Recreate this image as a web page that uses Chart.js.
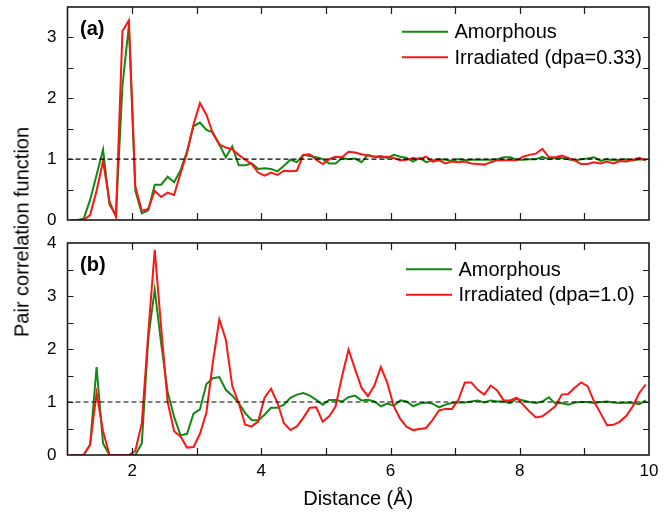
<!DOCTYPE html>
<html>
<head>
<meta charset="utf-8">
<script src="https://cdn.jsdelivr.net/npm/chart.js@4.4.1/dist/chart.umd.min.js"></script>
<style>
  html, body { margin: 0; padding: 0; background: #fff; }
  #wrap { position: relative; width: 670px; height: 512px; font-family: "Liberation Sans", Arial, sans-serif; }
  #panelA { position: absolute; left: 0; top: 0; }
  #panelB { position: absolute; left: 0; top: 233px; }
  #ytitle { position: absolute; left: 22px; top: 232px; transform: translate(-50%, -50%) rotate(-90deg);
            font-size: 20px; white-space: nowrap; color: #000; }
</style>
</head>
<body>
<div id="wrap">
  <canvas id="panelA" width="670" height="233"></canvas>
  <canvas id="panelB" width="670" height="279"></canvas>
  <div id="ytitle">Pair correlation function</div>
</div>
<script>
// distance bins (Å)
const distance = [
  1.05, 1.15, 1.25, 1.35, 1.45, 1.55, 1.65, 1.75, 1.85, 1.95,
  2.05, 2.15, 2.25, 2.35, 2.45, 2.55, 2.65, 2.75, 2.85, 2.95,
  3.05, 3.15, 3.25, 3.35, 3.45, 3.55, 3.65, 3.75, 3.85, 3.95,
  4.05, 4.15, 4.25, 4.35, 4.45, 4.55, 4.65, 4.75, 4.85, 4.95,
  5.05, 5.15, 5.25, 5.35, 5.45, 5.55, 5.65, 5.75, 5.85, 5.95,
  6.05, 6.15, 6.25, 6.35, 6.45, 6.55, 6.65, 6.75, 6.85, 6.95,
  7.05, 7.15, 7.25, 7.35, 7.45, 7.55, 7.65, 7.75, 7.85, 7.95,
  8.05, 8.15, 8.25, 8.35, 8.45, 8.55, 8.65, 8.75, 8.85, 8.95,
  9.05, 9.15, 9.25, 9.35, 9.45, 9.55, 9.65, 9.75, 9.85, 9.95
];

// panel (a)
const amorphousA = [
  0, 0, 0.02, 0.33, 0.74, 1.16, 0.25, 0.08, 2.2, 3.2,
  0.48, 0.11, 0.16, 0.58, 0.58, 0.71, 0.62, 0.82, 1.13, 1.54,
  1.6, 1.48, 1.44, 1.24, 1.03, 1.21, 0.9, 0.9, 0.93, 0.84,
  0.85, 0.84, 0.8, 0.89, 0.99, 0.95, 1.07, 1.05, 1.03, 1.0,
  0.93, 0.93, 1.02, 1.0, 1.01, 0.95, 1.07, 1.04, 1.05, 1.02,
  1.07, 1.04, 1.02, 0.96, 1.02, 0.95, 0.98, 1.0, 0.99, 0.97,
  1.0, 0.98, 0.99, 0.99, 0.99, 0.99, 1.0, 1.03, 1.03, 0.99,
  0.99, 1.0, 1.0, 1.04, 1.0, 1.02, 1.02, 1.0, 0.98, 1.0,
  1.01, 1.03, 0.97, 1.0, 0.98, 0.99, 1.0, 0.98, 1.0, 0.99
];
const irradiatedA = [
  0, 0, 0, 0.08, 0.48, 0.97, 0.3, 0.05, 3.1, 3.28,
  0.55, 0.15, 0.18, 0.48, 0.38, 0.45, 0.41, 0.77, 1.1, 1.57,
  1.92, 1.73, 1.42, 1.24, 1.19, 1.16, 1.07, 0.99, 0.92, 0.78,
  0.73, 0.78, 0.74, 0.81, 0.8, 0.81, 1.07, 1.08, 0.99, 0.92,
  1.0, 1.04, 1.03, 1.12, 1.11, 1.08, 1.06, 1.04, 1.03, 1.04,
  1.02, 0.98, 0.99, 1.02, 1.0, 1.04, 0.96, 0.98, 0.93, 0.96,
  0.95, 0.96, 0.93, 0.92, 0.91, 0.95, 0.98, 0.98, 0.98, 0.98,
  1.04, 1.07, 1.09, 1.17, 1.03, 1.03, 1.06, 1.02, 0.98, 0.92,
  0.92, 0.95, 0.93, 0.96, 0.93, 0.97, 0.96, 0.99, 1.02, 0.98
];

// panel (b)
const amorphousB = [
  0, 0, 0, 0.19, 1.66, 0.22, 0, 0, 0, 0,
  0, 0.22, 2.2, 3.12, 2.1, 1.19, 0.72, 0.37, 0.4, 0.78,
  0.86, 1.34, 1.45, 1.47, 1.23, 1.12, 0.98, 0.79, 0.66, 0.65,
  0.76, 0.89, 0.89, 0.95, 1.08, 1.14, 1.17, 1.12, 1.04, 0.95,
  1.04, 1.04, 1.01, 1.09, 1.12, 1.03, 1.04, 1.01, 0.92, 0.97,
  0.93, 1.03, 1.01, 0.92, 0.97, 0.99, 0.97, 0.9, 0.95, 0.98,
  0.99, 0.99, 1.01, 1.03, 0.99, 1.03, 1.01, 1.01, 0.98, 1.06,
  1.03, 1.0, 0.98, 1.01, 1.09, 0.97, 0.98, 0.95, 0.99, 1.0,
  1.0, 0.98, 1.0, 1.01, 0.99, 0.98, 0.99, 0.98, 0.96, 1.03
];
const irradiatedB = [
  0, 0, 0, 0.2, 1.17, 0.45, 0, 0, 0, 0,
  0.08, 0.6, 2.3, 3.87, 2.4, 1.0, 0.45, 0.35, 0.14, 0.15,
  0.4, 0.8, 1.75, 2.56, 2.18, 1.3, 0.98, 0.57, 0.54, 0.63,
  1.08, 1.25, 0.98, 0.6, 0.47, 0.54, 0.7, 0.89, 0.9, 0.63,
  0.73, 0.92, 1.49, 1.99, 1.62, 1.27, 1.11, 1.31, 1.66, 1.36,
  0.92, 0.68, 0.53, 0.47, 0.49, 0.51, 0.66, 0.84, 0.87, 0.87,
  1.04, 1.37, 1.37, 1.23, 1.14, 1.31, 1.22, 1.03, 1.03, 1.08,
  0.95, 0.82, 0.71, 0.73, 0.82, 0.92, 1.14, 1.15, 1.27, 1.37,
  1.3, 1.01, 0.79, 0.56, 0.57, 0.63, 0.74, 0.92, 1.17, 1.33
];

// dashed reference g(r) = 1
const refRange = [1, 10];
const refLevel = [1, 1];

// tick marks
const xMarks = [2, 3, 4, 5, 6, 7, 8, 9];
const yMarksA = [0.5, 1, 1.5, 2, 2.5, 3];
const yMarksB = [0.5, 1, 1.5, 2, 2.5, 3, 3.5];

const GREEN = '#128a12';
const RED = '#ff1414';
const FONT = '"Liberation Sans", Arial, sans-serif';

Chart.defaults.font.family = FONT;
Chart.defaults.color = '#000';

function toPoints(xs, ys) {
  return xs.map((x, i) => ({ x: x, y: ys[i] }));
}

// frame, inward ticks, panel tag and legend
const panelDecor = {
  id: 'panelDecor',
  afterDraw(chart, args, o) {
    const ctx = chart.ctx;
    const a = chart.chartArea;
    const x = chart.scales.x, y = chart.scales.y;
    ctx.save();
    ctx.strokeStyle = '#1a1a1a';
    ctx.lineWidth = 1.2;
    xMarks.forEach(v => {
      const px = Math.round(x.getPixelForValue(v)) + 0.5;
      ctx.beginPath();
      ctx.moveTo(px, a.bottom); ctx.lineTo(px, a.bottom - 7);
      ctx.moveTo(px, a.top); ctx.lineTo(px, a.top + 7);
      ctx.stroke();
    });
    o.yMarks.forEach(v => {
      const py = Math.round(y.getPixelForValue(v)) + 0.5;
      ctx.beginPath();
      ctx.moveTo(a.left, py); ctx.lineTo(a.left + 6, py);
      ctx.moveTo(a.right, py); ctx.lineTo(a.right - 6, py);
      ctx.stroke();
    });
    ctx.lineWidth = 1.6;
    ctx.strokeRect(a.left, a.top, a.width, a.height);

    ctx.fillStyle = '#000';
    ctx.textAlign = 'left';
    ctx.textBaseline = 'middle';
    ctx.font = 'bold 20px ' + FONT;
    ctx.fillText(o.tag, a.left + 12.5, a.top + 22.5);

    ctx.font = '20px ' + FONT;
    const items = chart.data.datasets.filter(d => d.label);
    items.forEach((d, i) => {
      const yy = a.top + o.legendTop + i * 25.5;
      const x0 = a.right - o.legendLeft;
      ctx.strokeStyle = d.borderColor;
      ctx.lineWidth = 2;
      ctx.beginPath();
      ctx.moveTo(x0, yy); ctx.lineTo(x0 + 46, yy);
      ctx.stroke();
      ctx.fillText(d.label, x0 + 52.5, yy + 1);
    });
    ctx.restore();
  }
};

function buildPanel(id, cfg) {
  return new Chart(document.getElementById(id), {
    type: 'line',
    data: {
      datasets: [
        { label: 'Amorphous', data: toPoints(distance, cfg.green), borderColor: GREEN, borderWidth: 2, order: 2 },
        { label: cfg.redLabel, data: toPoints(distance, cfg.red), borderColor: RED, borderWidth: 2, order: 1 },
        { label: '', data: toPoints(refRange, refLevel), borderColor: '#000', borderWidth: 1.2, borderDash: [5, 3], order: 0 }
      ]
    },
    options: {
      responsive: false,
      animation: false,
      elements: { line: { tension: 0, fill: false }, point: { radius: 0 } },
      layout: { padding: { top: cfg.padTop, right: 21, left: 0, bottom: 0 } },
      plugins: {
        legend: { display: false },
        tooltip: { enabled: false },
        panelDecor: { tag: cfg.tag, yMarks: cfg.yMarks, legendTop: cfg.legendTop, legendLeft: cfg.legendLeft }
      },
      scales: {
        x: {
          type: 'linear', min: 1, max: 10,
          grid: { display: false }, border: { display: false },
          ticks: { display: cfg.showX, stepSize: 2, includeBounds: false, padding: -2,
                   font: { size: 17 }, maxRotation: 0, autoSkip: false },
          title: { display: cfg.showX, text: 'Distance (Å)', font: { size: 20 }, padding: { top: 0, bottom: 1 } },
          afterFit: s => { s.height = cfg.xHeight; s.paddingLeft = 0; s.paddingRight = 0; }
        },
        y: {
          min: 0, max: cfg.yMax,
          grid: { display: false }, border: { display: false },
          ticks: { stepSize: 1, includeBounds: false, padding: 3, font: { size: 17 } },
          afterFit: s => { s.width = 67.5; s.paddingTop = 0; s.paddingBottom = 0; }
        }
      }
    },
    plugins: [panelDecor]
  });
}

buildPanel('panelA', {
  green: amorphousA, red: irradiatedA, redLabel: 'Irradiated (dpa=0.33)',
  yMax: 3.5, yMarks: yMarksA, tag: '(a)', showX: false,
  padTop: 7, xHeight: 13, legendTop: 24.7, legendLeft: 247
});

buildPanel('panelB', {
  green: amorphousB, red: irradiatedB, redLabel: 'Irradiated (dpa=1.0)',
  yMax: 4, yMarks: yMarksB, tag: '(b)', showX: true,
  padTop: 10, xHeight: 57, legendTop: 26.3, legendLeft: 243
});
</script>
</body>
</html>
